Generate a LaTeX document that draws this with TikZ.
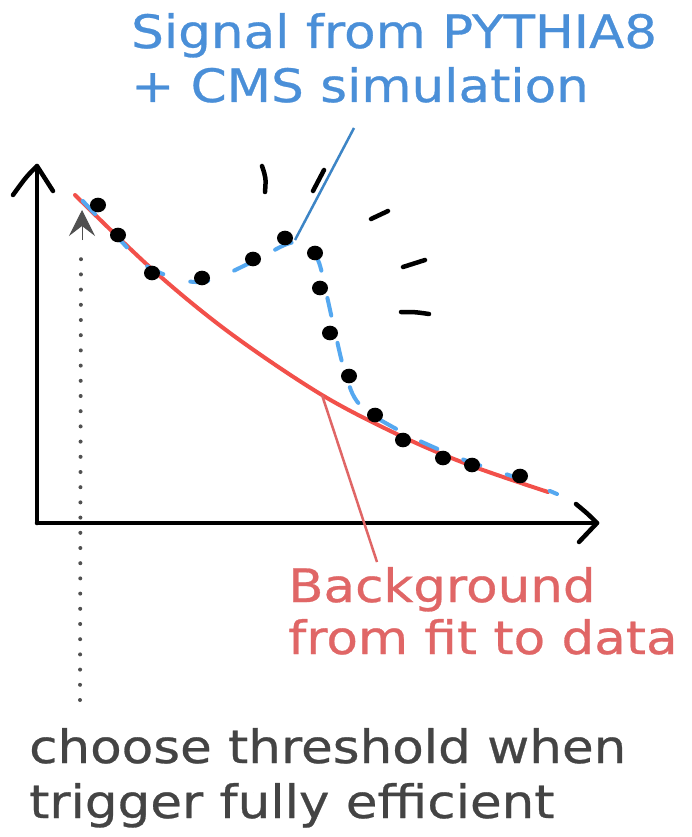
\documentclass[tikz,border=0pt]{standalone}
\usepackage{fontspec}
\setmainfont{DejaVu Sans}
\newfontfamily\widefont[FakeStretch=1.12,FakeBold=0.6]{DejaVu Sans}
\usetikzlibrary{arrows.meta}
\definecolor{sigblue}{HTML}{4A8FD8}
\definecolor{leadblue}{HTML}{3D85C6}
\definecolor{dashblue}{HTML}{55A8F0}
\definecolor{bgred}{HTML}{E06666}
\definecolor{curvered}{HTML}{F2504A}
\definecolor{txtgray}{HTML}{444444}
\definecolor{arrgray}{HTML}{505050}
\tikzset{
  axisline/.style={line width=4.5pt, black, line cap=round, line join=round},
  datadot/.style={fill=black, draw=none},
  handstroke/.style={line width=4.5pt, black, line cap=round},
  bigtext/.style={inner sep=0pt, align=left, anchor=base west},
}
\begin{document}
\begin{tikzpicture}[x=1pt,y=-1pt]
\useasboundingbox (0,0) rectangle (692,837);
\fill[white] (0,0) rectangle (692,837);

% axes
\coordinate (orig) at (37,523);
\coordinate (ytip) at (37,166);
\coordinate (xtip) at (597,523);
\draw[axisline] (orig) -- (ytip);
\draw[axisline] (orig) -- (xtip);
\draw[axisline] (13,195) .. controls (26,177) .. (ytip) .. controls (45,178) .. (53,191);
\draw[axisline] (576,504) .. controls (588,514) .. (xtip) .. controls (588,532) .. (579,542);

% threshold dotted arrow
\coordinate (thrbot) at (80,700);
\coordinate (thrtop) at (82,210);
\draw[arrgray, line width=4pt, line cap=round, dash pattern=on 0pt off 15.2pt] (thrbot) -- (81,250);
\draw[arrgray, line width=1pt, -{Stealth[length=26pt,width=26pt,inset=10pt]}] (82,240) -- (thrtop);

% background fit (red)
\draw[curvered, line width=4pt, line cap=round] plot[smooth, tension=0.55] coordinates {
 (75,195) (153,270) (230,333) (322,395) (403,437) (472,466) (548,492)};

% signal (blue dashed)
\draw[dashblue, line width=4pt, line cap=round, dash pattern=on 18pt off 28pt, dash phase=-4pt] plot[smooth, tension=0.6] coordinates {
 (80,198) (120,240) (150,268) (200,282) (250,263) (287,244) (305,244) (318,260) (326,292) (335,332) (345,372) (360,405) (400,431) (440,450) (470,462) (520,479) (557,494)};

% data points
\foreach \p/\q [count=\i] in {98/205,118/235,152/273,202/278,253/259,285/238,315/253,320/288,330/333,349/376,375/415,403/440,443/458,472/465,520/476}
  \fill[datadot] (\p,\q) ellipse [x radius=8pt, y radius=7.3pt];

% hand-drawn strokes
\draw[handstroke] (262,166) .. controls (266,178) .. (265,192);
\draw[handstroke] (324,170) -- (313,191);
\draw[handstroke] (371,219) -- (388,211);
\draw[handstroke] (403,267) -- (425,260);
\draw[handstroke] (401,312) .. controls (415,312) .. (429,314);

% texts
\node[bigtext, text=sigblue, font=\widefont\fontsize{46}{54}\selectfont] (sig) at (131,102) {Signal from PYTHIA8\\+ CMS simulation};
\node[bigtext, text=bgred, font=\widefont\fontsize{46}{52}\selectfont] (bkg) at (288,654) {Background\\from fit to data};
\node[bigtext, text=txtgray, font=\widefont\fontsize{46}{55}\selectfont] (thr) at (29,818) {choose threshold when\\trigger fully efficient};

% leaders
\coordinate (sigpt) at (295,240);
\coordinate (sigend) at (354,128);
\coordinate (bkgpt) at (322,395);
\coordinate (bkgend) at (377,562);
\draw[leadblue, line width=2.5pt] (sigpt) -- (sigend);
\draw[bgred, line width=2.5pt] (bkgpt) -- (bkgend);
\end{tikzpicture}
\end{document}
